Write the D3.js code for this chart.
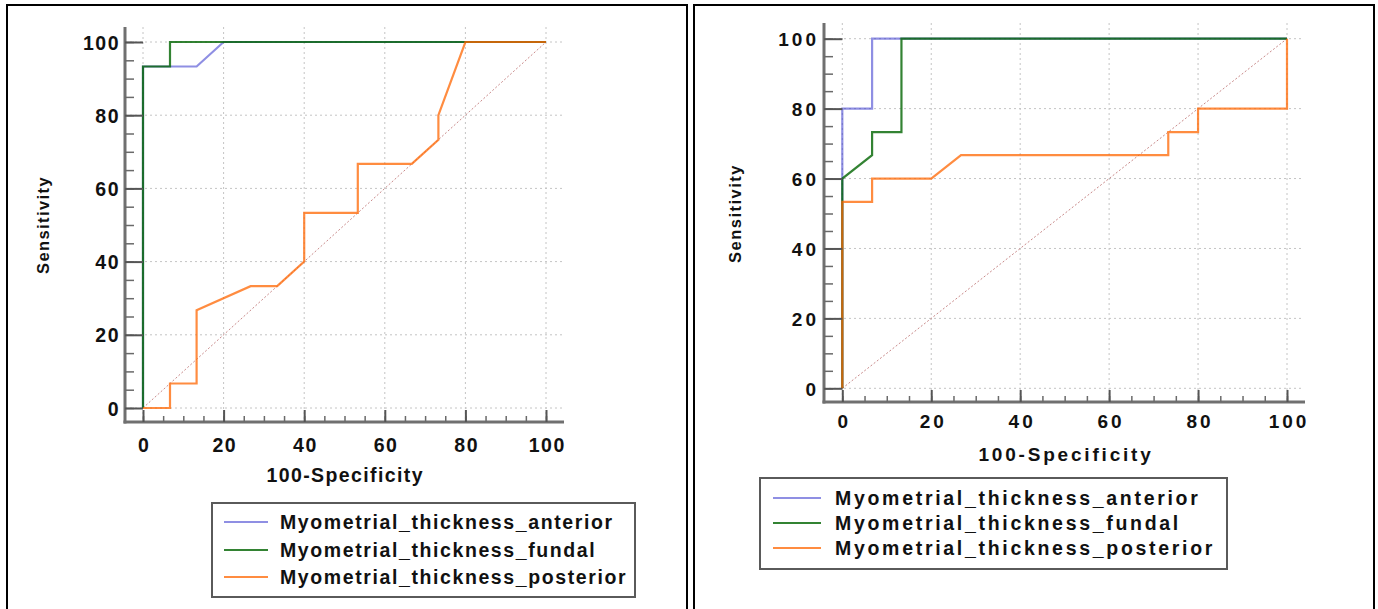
<!DOCTYPE html>
<html><head><meta charset="utf-8">
<script src="https://cdn.jsdelivr.net/npm/d3@7"></script>
<style>html,body{margin:0;padding:0;background:#fff;overflow:hidden}</style>
</head><body><svg id="c" width="1378" height="609"></svg>
<script>
// ---- data ----
const seriesNames = ["Myometrial_thickness_anterior", "Myometrial_thickness_fundal", "Myometrial_thickness_posterior"];
const axisTicks = [0, 20, 40, 60, 80, 100];
const xTitle = "100-Specificity";
const yTitle = "Sensitivity";

// left panel ROC curves (100-Specificity, Sensitivity)
const leftAnteriorX  = [0, 0, 13.3, 20, 100];
const leftAnteriorY  = [0, 93.3, 93.3, 100, 100];
const leftFundalX    = [0, 0, 6.7, 6.7, 100];
const leftFundalY    = [0, 93.3, 93.3, 100, 100];
const leftPosteriorX = [0, 6.7, 6.7, 13.3, 13.3, 26.7, 33.3, 40, 40, 53.3, 53.3, 66.7, 73.3, 73.3, 80, 100];
const leftPosteriorY = [0, 0, 6.7, 6.7, 26.7, 33.3, 33.3, 40, 53.3, 53.3, 66.7, 66.7, 73.3, 80, 100, 100];

// right panel ROC curves
const rightAnteriorX  = [0, 0, 6.7, 6.7, 100];
const rightAnteriorY  = [0, 80, 80, 100, 100];
const rightFundalX    = [0, 0, 6.7, 6.7, 13.3, 13.3, 100];
const rightFundalY    = [0, 60, 66.7, 73.3, 73.3, 100, 100];
const rightPosteriorX = [0, 0, 6.7, 6.7, 20, 26.7, 73.3, 73.3, 80, 80, 100, 100];
const rightPosteriorY = [0, 53.3, 53.3, 60, 60, 66.7, 66.7, 73.3, 73.3, 80, 80, 100];

// ---- styles ----
const seriesColors = ["#3333cc", "#006400", "#ff6600"];
const seriesOpacity = [0.55, 0.8, 0.75];

const svg = d3.select("#c");

// panel borders (table cells)
const borders = [[7, 687], [694, 1374]];
borders.forEach(([a, b]) => {
  svg.append("path")
    .attr("d", `M${a},609V5H${b}V609`)
    .attr("fill", "none").attr("stroke", "#000").attr("stroke-width", 2);
});

const panels = [
  {
    xs: [leftAnteriorX, leftFundalX, leftPosteriorX],
    ys: [leftAnteriorY, leftFundalY, leftPosteriorY],
    x0: 143, x100: 546, y0: 408, y100: 42,
    axisX: 125, axisY: 422, axisTop: 27, axisRight: 564,
    gridTop: 27, gridRight: 564,
    tickFont: 19.5, tickLs: 1.5, xLabelOff: 30, yLabelPad: 5,
    titleFont: 19.5, titleLs: 1.4, xTitleY: 482,
    yTitleX: 49, yTitleFont: 16.5, yTitleLs: 1.4,
    legend: { x: 212, y: 503, w: 423, h: 94, l1: 224, l2: 268, tx: 280, rows: [522, 550, 577], font: 19.5, ls: 1.6 }
  },
  {
    xs: [rightAnteriorX, rightFundalX, rightPosteriorX],
    ys: [rightAnteriorY, rightFundalY, rightPosteriorY],
    x0: 842.3, x100: 1287, y0: 388.3, y100: 38.7,
    axisX: 824, axisY: 402, axisTop: 23, axisRight: 1305,
    gridTop: 23, gridRight: 1303,
    tickFont: 19, tickLs: 3, xLabelOff: 26, yLabelPad: 5,
    titleFont: 19, titleLs: 2.8, xTitleY: 461,
    yTitleX: 741, yTitleFont: 16.5, yTitleLs: 1.5,
    legend: { x: 760, y: 478, w: 467, h: 91, l1: 773, l2: 821, tx: 835, rows: [498, 523, 548], font: 19.5, ls: 2.7 }
  }
];

const fontFam = "'Liberation Sans', Arial, sans-serif";

panels.forEach(p => {
  const x = d3.scaleLinear().domain([0, 100]).range([p.x0, p.x100]);
  const y = d3.scaleLinear().domain([0, 100]).range([p.y0, p.y100]);
  const g = svg.append("g");

  // grid
  g.append("g").selectAll("line.v").data(axisTicks).join("line")
    .attr("x1", d => x(d)).attr("x2", d => x(d))
    .attr("y1", p.gridTop).attr("y2", p.axisY)
    .attr("stroke", "#c4c4c4").attr("stroke-width", 1).attr("stroke-dasharray", "2,3");
  g.append("g").selectAll("line.h").data(axisTicks).join("line")
    .attr("x1", p.axisX).attr("x2", p.gridRight)
    .attr("y1", d => y(d)).attr("y2", d => y(d))
    .attr("stroke", "#c4c4c4").attr("stroke-width", 1).attr("stroke-dasharray", "2,3");

  // diagonal reference
  g.append("line")
    .attr("x1", x(0)).attr("y1", y(0)).attr("x2", x(100)).attr("y2", y(100))
    .attr("stroke", "#c98a8a").attr("stroke-width", 1).attr("stroke-dasharray", "2,2");

  // curves
  const line = d3.line().x(d => x(d[0])).y(d => y(d[1]));
  p.xs.forEach((xsArr, i) => {
    const pts = xsArr.map((v, k) => [v, p.ys[i][k]]);
    g.append("path").datum(pts)
      .attr("d", line)
      .attr("fill", "none")
      .attr("stroke", seriesColors[i])
      .attr("stroke-opacity", seriesOpacity[i])
      .attr("stroke-width", 2.2)
      .attr("stroke-linejoin", "miter");
  });

  // axis lines
  g.append("line").attr("x1", p.axisX).attr("x2", p.axisX)
    .attr("y1", p.axisTop).attr("y2", p.axisY + 1.5)
    .attr("stroke", "#707070").attr("stroke-width", 3);
  g.append("line").attr("x1", p.axisX - 1.5).attr("x2", p.axisRight)
    .attr("y1", p.axisY).attr("y2", p.axisY)
    .attr("stroke", "#707070").attr("stroke-width", 3);

  // minor ticks
  const minorX = d3.axisBottom(x).ticks(20).tickSize(-6).tickFormat("");
  const minorY = d3.axisLeft(y).ticks(20).tickSize(-9).tickFormat("");
  const mx = g.append("g").attr("transform", `translate(0,${p.axisY})`).call(minorX);
  const my = g.append("g").attr("transform", `translate(${p.axisX},0)`).call(minorY);
  [mx, my].forEach(s => {
    s.select(".domain").remove();
    s.selectAll(".tick line").attr("stroke", "#6a6a6a").attr("stroke-width", 1.5);
  });

  // major ticks
  const majX = d3.axisBottom(x).tickValues(axisTicks).tickSize(-12).tickPadding(0).tickFormat(d3.format("d"));
  const majY = d3.axisLeft(y).tickValues(axisTicks).tickSize(-(p.x0 - p.axisX)).tickPadding(p.yLabelPad).tickFormat(d3.format("d"));
  const ax = g.append("g").attr("transform", `translate(0,${p.axisY})`).call(majX);
  const ay = g.append("g").attr("transform", `translate(${p.axisX},0)`).call(majY);
  [ax, ay].forEach(s => {
    s.select(".domain").remove();
    s.selectAll(".tick line").attr("stroke", "#555").attr("stroke-width", 2);
    s.selectAll(".tick text")
      .attr("font-family", fontFam).attr("font-weight", "bold")
      .attr("font-size", p.tickFont).attr("letter-spacing", p.tickLs)
      .attr("fill", "#111");
  });
  ax.selectAll(".tick text").attr("y", p.xLabelOff).attr("dy", null)
    .attr("dx", p.tickLs / 2);
  ay.selectAll(".tick text").attr("dy", "0.36em");

  // titles
  g.append("text").text(xTitle)
    .attr("x", (p.x0 + p.x100) / 2 + p.titleLs / 2).attr("y", p.xTitleY)
    .attr("text-anchor", "middle")
    .attr("font-family", fontFam).attr("font-weight", "bold")
    .attr("font-size", p.titleFont).attr("letter-spacing", p.titleLs).attr("fill", "#111");
  g.append("text").text(yTitle)
    .attr("transform", `translate(${p.yTitleX},${(p.y0 + p.y100) / 2}) rotate(-90)`)
    .attr("text-anchor", "middle")
    .attr("font-family", fontFam).attr("font-weight", "bold")
    .attr("font-size", p.yTitleFont).attr("letter-spacing", p.yTitleLs).attr("fill", "#111");

  // legend
  const L = p.legend;
  g.append("rect").attr("x", L.x).attr("y", L.y).attr("width", L.w).attr("height", L.h)
    .attr("fill", "#fff").attr("stroke", "#5a5a5a").attr("stroke-width", 2);
  seriesNames.forEach((name, i) => {
    g.append("line").attr("x1", L.l1).attr("x2", L.l2)
      .attr("y1", L.rows[i]).attr("y2", L.rows[i])
      .attr("stroke", seriesColors[i]).attr("stroke-opacity", seriesOpacity[i]).attr("stroke-width", 2);
    g.append("text").text(name)
      .attr("x", L.tx).attr("y", L.rows[i]).attr("dy", "0.36em")
      .attr("font-family", fontFam).attr("font-weight", "bold")
      .attr("font-size", L.font).attr("letter-spacing", L.ls).attr("fill", "#111");
  });
});
</script>
</body></html>
